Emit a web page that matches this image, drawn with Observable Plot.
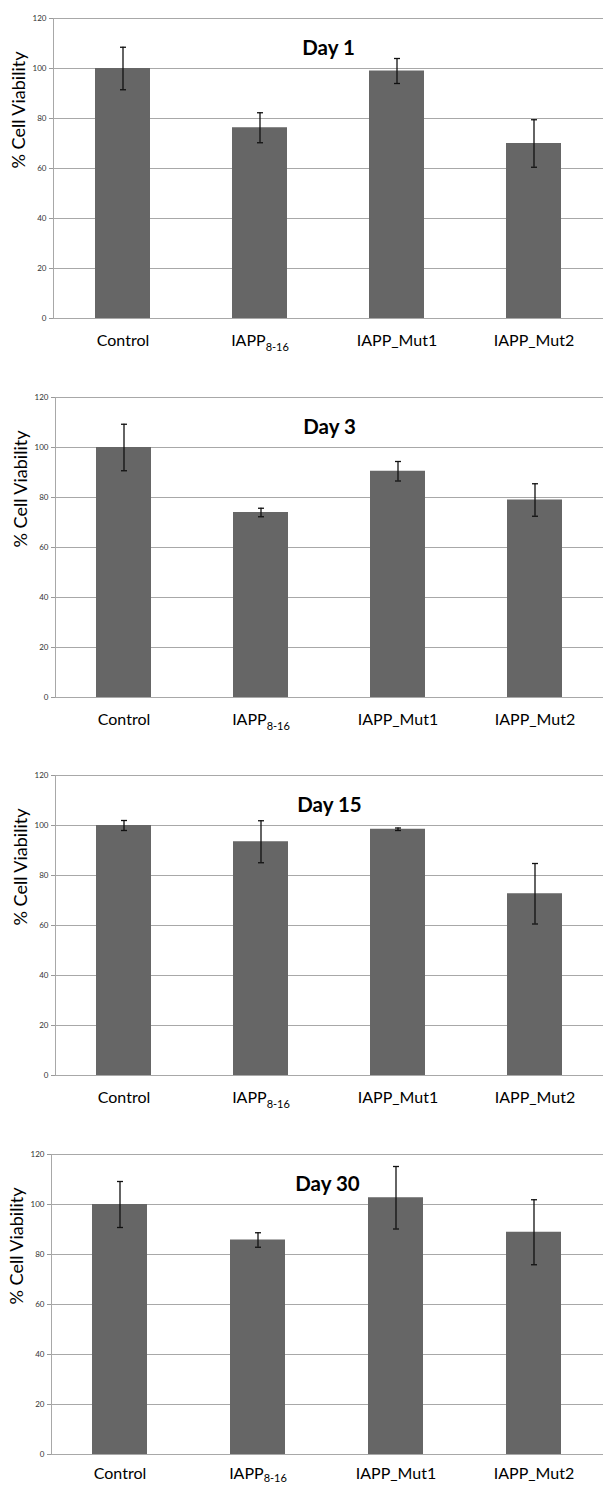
<!DOCTYPE html>
<html><head><meta charset="utf-8">
<script src="https://cdn.jsdelivr.net/npm/d3@7"></script>
<script src="https://cdn.jsdelivr.net/npm/@observablehq/plot@0.6"></script>
<style>
body{margin:0;background:#fff;}
#charts svg{display:block;}
</style></head><body><div id="charts"></div>
<script>
const categories = ["Control", "IAPP8-16", "IAPP_Mut1", "IAPP_Mut2"];
const days = ["Day 1", "Day 3", "Day 15", "Day 30"];
const yTicks = [0, 20, 40, 60, 80, 100, 120];
const yTitle = "% Cell Viability";

const day1Mean = [100, 76.3, 99, 70];
const day1Err = [8.5, 6, 5, 9.5];
const day3Mean = [100, 74, 90.5, 79];
const day3Err = [9.3, 1.7, 3.9, 6.5];
const day15Mean = [100, 93.5, 98.5, 72.7];
const day15Err = [2, 8.4, 0.5, 12.1];
const day30Mean = [100, 85.8, 102.7, 88.9];
const day30Err = [9.2, 2.9, 12.5, 13];

const panels = [
  {title: days[0], mean: day1Mean, err: day1Err, marginLeft: 53, height: 379, pad: 16, sub: 5},
  {title: days[1], mean: day3Mean, err: day3Err, marginLeft: 55, height: 378, pad: 16, sub: 5},
  {title: days[2], mean: day15Mean, err: day15Err, marginLeft: 55, height: 379, pad: 16, sub: 5},
  {title: days[3], mean: day30Mean, err: day30Err, marginLeft: 51, height: 349, pad: 13, sub: 3}
];

const cap = {draw(ctx, size) { const r = Math.sqrt(size / Math.PI); ctx.moveTo(-r, 0); ctx.lineTo(r, 0); }};

const root = document.getElementById("charts");
for (const p of panels) {
  const data = categories.map((c, i) => ({cat: c, v: p.mean[i], lo: p.mean[i] - p.err[i], hi: p.mean[i] + p.err[i]}));
  const chart = Plot.plot({
    width: 603, height: p.height,
    marginLeft: p.marginLeft, marginRight: 0, marginTop: 18, marginBottom: p.height - 318,
    style: {fontFamily: "Lato, sans-serif", background: "#fff"},
    x: {domain: categories, paddingInner: 0.6, paddingOuter: 0.3, label: null},
    y: {domain: [0, 120], label: null},
    marks: [
      Plot.gridY(yTicks, {stroke: "#a8a8a8", strokeOpacity: 1}),
      Plot.frame({anchor: "left", stroke: "#a8a8a8"}),
      Plot.barY(data, {x: "cat", y: "v", fill: "#666666"}),
      Plot.ruleX(data, {x: "cat", y1: "lo", y2: "hi", stroke: "#111", strokeWidth: 1.3}),
      Plot.dot(data, {x: "cat", y: "hi", symbol: cap, r: 3, fill: "none", stroke: "#111", strokeWidth: 1.3}),
      Plot.dot(data, {x: "cat", y: "lo", symbol: cap, r: 3, fill: "none", stroke: "#111", strokeWidth: 1.3}),
      Plot.axisY(yTicks, {tickSize: 4, tickPadding: 3, fontSize: 8, stroke: "#999", fill: "#333"}),
      Plot.axisX({tickSize: 0, tickPadding: p.pad, fontSize: 16, fill: "#000"}),
      Plot.text([yTitle], {frameAnchor: "left", rotate: -90, dx: -34, fontSize: 18, fill: "#000"}),
      Plot.text([p.title], {frameAnchor: "top", dy: 22, fontSize: 20.5, fontWeight: "bold", fill: "#000"})
    ]
  });
  chart.querySelectorAll("text").forEach(t => {
    if (t.textContent === "IAPP8-16") {
      t.textContent = "";
      const a = document.createElementNS("http://www.w3.org/2000/svg", "tspan");
      a.textContent = "IAPP";
      const b = document.createElementNS("http://www.w3.org/2000/svg", "tspan");
      b.textContent = "8-16";
      b.setAttribute("dy", String(p.sub));
      b.setAttribute("font-size", "11");
      t.appendChild(a); t.appendChild(b);
    }
  });
  root.appendChild(chart);
}
</script></body></html>
